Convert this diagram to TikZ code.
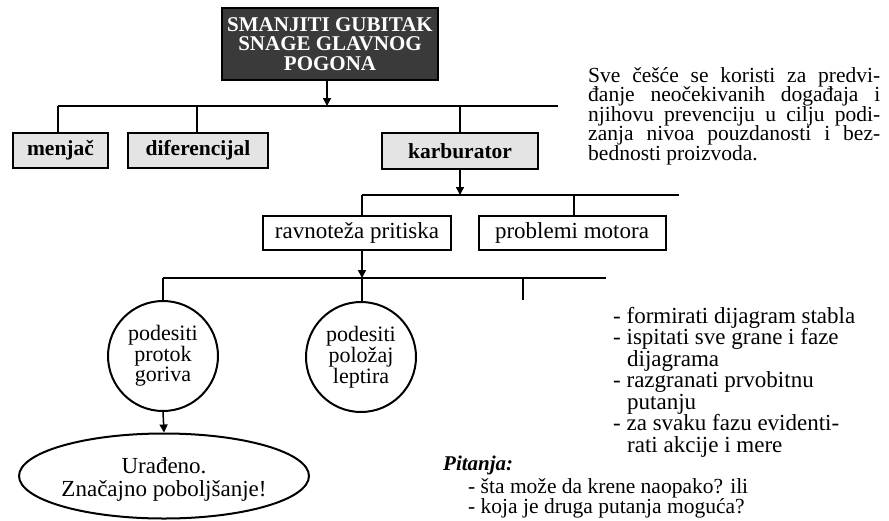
\documentclass[tikz,border=0pt]{standalone}
\usepackage{fontspec}
\setmainfont{Liberation Serif}
\usetikzlibrary{shapes.geometric,arrows.meta}
\definecolor{darkbox}{HTML}{3A3A3A}
\definecolor{lightbox}{HTML}{E4E4E4}
\begin{document}
\begin{tikzpicture}[x=1pt,y=-1pt,
  conn/.style={line width=1.5pt},
  arr/.style={line width=1.5pt,-{Triangle[length=8pt,width=8pt]}},
  graybox/.style={draw,line width=2pt,fill=lightbox,inner sep=0pt,font=\fontsize{21.5}{22}\selectfont\bfseries},
  plainbox/.style={draw,line width=2pt,fill=white,inner sep=0pt,font=\fontsize{23}{24}\selectfont},
  circ/.style={draw,circle,line width=2pt,inner sep=0pt,minimum size=110pt,align=center,font=\fontsize{22}{16.5}\selectfont},
  para/.style={inner sep=0pt,anchor=base west,font=\fontsize{21.5}{20}\selectfont},
  lst/.style={inner sep=0pt,anchor=base west,font=\fontsize{23}{20}\selectfont},
  qst/.style={inner sep=0pt,anchor=base west,font=\fontsize{21.5}{20}\selectfont}
]
\useasboundingbox (0,0) rectangle (889,520);
\node[draw,line width=1.5pt,fill=darkbox,text=white,inner sep=0pt,minimum width=216pt,minimum height=72pt,align=center,
  font=\fontsize{21}{19.5}\selectfont\bfseries] (top) at (330,44) {SMANJITI GUBITAK\\SNAGE GLAVNOG\\POGONA};
\node[graybox,minimum width=95pt,minimum height=35pt] (menjac) at (60.5,150.5) {menjač};
\node[graybox,minimum width=140pt,minimum height=35pt] (dif) at (198,150.5) {diferencijal};
\node[graybox,minimum width=156pt,minimum height=36pt] (karb) at (460,151) {karburator};
\node[plainbox,minimum width=188pt,minimum height=34pt] (rav) at (357,233) {ravnoteža pritiska};
\node[plainbox,minimum width=187pt,minimum height=34pt] (prob) at (572,233) {problemi motora};
\node[circ] (c1) at (163,356) {podesiti\\protok\\goriva};
\node[circ] (c2) at (361,357) {podesiti\\položaj\\leptira};
\node[draw,ellipse,line width=2pt,inner sep=0pt,minimum width=218pt,minimum height=85pt,align=center,
  font=\fontsize{23}{23}\selectfont] (e) at (164,476) {\rule{0pt}{22pt}Urađeno.\\Značajno poboljšanje!};

\coordinate (j1) at (327,106);
\coordinate (h1a) at (58,106);
\coordinate (h1b) at (558,106);
\coordinate (j2) at (460,195);
\coordinate (h2a) at (362,195);
\coordinate (h2b) at (679,195);
\coordinate (j3) at (362,278);
\coordinate (h3a) at (163,278);
\coordinate (h3b) at (606,278);
\coordinate (h3c) at (523,278);
\coordinate (h3d) at (523,300);

\draw[arr] (top.south -| j1) -- (j1);
\draw[conn] (h1a) -- (h1b);
\draw[conn] (h1a) -- (h1a |- menjac.north);
\draw[conn] (dif.north -| 197,0) -- (197,106);
\draw[conn] (karb.north) -- (karb.north |- j1);
\draw[arr] (karb.south) -- (j2);
\draw[conn] (h2a) -- (h2b);
\draw[conn] (h2a) -- (h2a |- rav.north);
\draw[conn] (prob.north -| 574,0) -- (574,195);
\draw[arr] (rav.south -| j3) -- (j3);
\draw[conn] (h3a) -- (h3b);
\draw[conn] (h3a) -- (c1.north);
\draw[conn] (c2.north -| j3) -- (j3);
\draw[conn] (h3c) -- (h3d);
\draw[arr] (c1.south) -- (e.north);

\node[para] (p1) at (588,82) {\makebox[292pt][s]{Sve češće se koristi za predvi-}};
\node[para] (p2) at (588,101.5) {\makebox[292pt][s]{đanje neočekivanih događaja i}};
\node[para] (p3) at (588,121) {\makebox[292pt][s]{njihovu prevenciju u cilju podi-}};
\node[para] (p4) at (588,140.5) {\makebox[292pt][s]{zanja nivoa pouzdanosti i bez-}};
\node[para] (p5) at (588,160) {bednosti proizvoda.};

\node[lst] (l1) at (613,323) {- formirati dijagram stabla};
\node[lst] (l2) at (613,344.5) {- ispitati sve grane i faze};
\node[lst] (l3) at (627,366) {dijagrama};
\node[lst] (l4) at (613,387.5) {- razgranati prvobitnu};
\node[lst] (l5) at (627,409) {putanju};
\node[lst] (l6) at (613,430.5) {- za svaku fazu evidenti-};
\node[lst] (l7) at (627,452) {rati akcije i mere};

\node[inner sep=0pt,anchor=base west,font=\fontsize{21}{22}\selectfont\bfseries\itshape] (pit) at (443,470) {Pitanja:};
\node[qst] (q1) at (468,493) {- šta može da krene naopako? ili};
\node[qst] (q2) at (468,513) {- koja je druga putanja moguća?};
\end{tikzpicture}
\end{document}
